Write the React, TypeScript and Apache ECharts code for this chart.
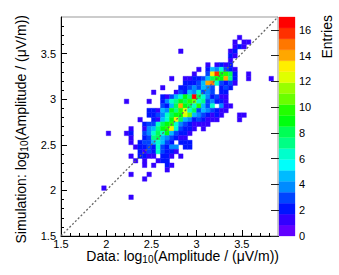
import React, { useEffect, useRef } from "react";
import * as echarts from "echarts";

// ---- data ----
const binWidth = 0.05;
const zMax = 17;
const nContours = 20;

// [y-bin low edge, x-bin low edge of first cell, counts of consecutive x bins]
const histRows: Array<[number, number, number[]]> = [
  [3.65, 3.45, [1]],
  [3.6, 3.4, [1, 0, 1, 1]],
  [3.55, 3.4, [1, 2, 1]],
  [3.5, 2.8, [1]],
  [3.5, 3.35, [1, 2]],
  [3.45, 3.35, [2, 1]],
  [3.4, 3.35, [1]],
  [3.35, 3.1, [1, 0, 1, 2, 1, 2]],
  [3.3, 3.0, [1, 0, 2, 5, 4, 6, 3, 2, 1]],
  [3.25, 2.95, [1, 0, 0, 3, 13, 16, 9, 10, 8, 2]],
  [3.25, 3.55, [1]],
  [3.2, 2.7, [1]],
  [3.2, 2.85, [1, 1, 2, 2, 3, 5, 8, 9, 9, 14, 7, 2]],
  [3.2, 3.55, [1]],
  [3.2, 3.8, [1]],
  [3.15, 2.85, [2, 2, 2, 3, 5, 14, 15, 6, 3, 2, 3, 1]],
  [3.1, 2.6, [1]],
  [3.1, 2.8, [2, 2, 3, 4, 3, 5, 4, 3, 0, 2, 3, 2]],
  [3.05, 2.5, [1]],
  [3.05, 2.75, [1, 3, 2, 5, 4, 6, 3, 4, 3, 0, 2, 2]],
  [3.0, 2.6, [2, 1, 3, 5, 6, 9, 7, 17, 8, 6, 4, 2, 3, 1, 1]],
  [2.95, 2.2, [1]],
  [2.95, 2.45, [1]],
  [2.95, 2.6, [2, 4, 6, 7, 9, 8, 10, 11, 6, 7, 3, 4, 2, 2, 1]],
  [2.9, 2.6, [3, 2, 5, 8, 14, 9, 8, 6, 10, 5, 3, 6, 0, 4, 1, 1]],
  [2.85, 2.45, [2, 2, 1, 5, 4, 9, 7, 10, 12, 6, 8, 3, 5, 4, 3, 2, 1, 1]],
  [2.8, 2.45, [2, 2, 3, 4, 6, 8, 9, 9, 12, 11, 5, 4, 3, 2, 1, 2, 1]],
  [2.8, 3.45, [1, 1]],
  [2.75, 2.35, [1]],
  [2.75, 2.5, [2, 1, 5, 6, 9, 13, 8, 5, 4, 2, 3, 2, 1, 1, 1]],
  [2.75, 3.45, [1]],
  [2.7, 2.4, [2, 3, 3, 6, 8, 9, 10, 6, 4, 3, 2, 1, 1, 1, 1]],
  [2.65, 2.25, [1]],
  [2.65, 2.4, [1, 4, 5, 7, 9, 10, 13, 6, 3, 2, 2, 1]],
  [2.65, 3.05, [1]],
  [2.6, 2.0, [1]],
  [2.6, 2.2, [1, 2]],
  [2.6, 2.4, [3, 4, 6, 8, 6, 9, 5, 3, 2, 2, 1]],
  [2.55, 2.25, [1]],
  [2.55, 2.4, [2, 3, 7, 8, 5, 4, 3, 2, 1, 1]],
  [2.5, 2.25, [1]],
  [2.5, 2.35, [2, 3, 3, 5, 6, 5, 3, 2, 0, 2, 2, 2]],
  [2.45, 2.3, [1, 2, 2, 3, 2, 6, 3, 2, 4, 4, 0, 2, 2]],
  [2.4, 2.35, [2, 1, 3, 2, 6, 3, 2, 2, 1]],
  [2.35, 2.25, [1, 0, 2, 2, 1, 1, 0, 2, 2, 1, 0, 1]],
  [2.3, 2.3, [1, 0, 1, 0, 0, 1, 2, 2]],
  [2.25, 2.4, [1, 0, 1, 0, 0, 2, 1]],
  [2.2, 2.65, [1]],
  [2.15, 2.25, [1]],
  [2.15, 2.45, [1]],
  [2.1, 2.4, [1]],
  [2.0, 1.95, [1]],
  [1.9, 2.25, [1]],
];

const palette = [
  "#6100ff", "#3300ff", "#0014ff", "#0044ff", "#008bff",
  "#00bbff", "#00fffb", "#00ffcc", "#00ff85", "#00ff55",
  "#00ff0e", "#22ff00", "#69ff00", "#99ff00", "#e0ff00",
  "#ffee00", "#ffa700", "#ff7700", "#ff3000", "#ff0000",
];

const majorTicks = [1.5, 2, 2.5, 3, 3.5];
const minorTicks = [1.6, 1.7, 1.8, 1.9, 2.1, 2.2, 2.3, 2.4, 2.6, 2.7, 2.8, 2.9, 3.1, 3.2, 3.3, 3.4, 3.6, 3.7, 3.8];
const zTicks = [0, 2, 4, 6, 8, 10, 12, 14, 16];
const diagonal = [[1.5, 1.5], [3.9, 3.9]];

const FONT = "'Liberation Sans', Arial, Helvetica, sans-serif";

function colorFor(z: number) {
  const lvl = Math.min(nContours - 1, Math.floor(0.01 + (z * nContours) / zMax));
  return palette[lvl];
}

export default function App() {
  const ref = useRef<HTMLDivElement>(null);
  useEffect(() => {
    if (!ref.current) return;
    const chart = echarts.init(ref.current, null, { renderer: "svg" });

    const cells: number[][] = [];
    histRows.forEach(([yLow, xStart, counts]) => {
      counts.forEach((c, k) => {
        if (c > 0) cells.push([Math.round((xStart + k * binWidth) * 100) / 100, yLow, c]);
      });
    });
    const bands = palette.map((_, k) => [(k * zMax) / nContours, ((k + 1) * zMax) / nContours, k]);

    const labelStyle = { color: "#000", fontSize: 11, fontFamily: FONT, lineHeight: 11 };
    const titleRich = {
      a: { fontSize: 14, fontFamily: FONT, fill: "#000", lineHeight: 16, verticalAlign: "middle" },
      s: { fontSize: 10, fontFamily: FONT, fill: "#000", lineHeight: 6, verticalAlign: "bottom" },
    };

    const option: any = {
      animation: false,
      grid: [
        { left: 61, top: 17, width: 217, height: 219, show: true, borderColor: "#999", borderWidth: 1, backgroundColor: "transparent" },
        { left: 279, top: 17, width: 16, height: 219, show: false },
      ],
      xAxis: [
        {
          type: "value", gridIndex: 0, min: 1.5, max: 3.9, position: "bottom",
          axisLine: { show: true, onZero: false, lineStyle: { color: "#000", width: 1 } },
          axisTick: { show: true, inside: true, length: 6, lineStyle: { color: "#000" }, customValues: majorTicks },
          axisLabel: { ...labelStyle, margin: 2, customValues: majorTicks },
          splitLine: { show: false },
        },
        {
          type: "value", gridIndex: 0, min: 1.5, max: 3.9, position: "bottom",
          axisLine: { show: false },
          axisTick: { show: true, inside: true, length: 3, lineStyle: { color: "#000" }, customValues: minorTicks },
          axisLabel: { show: false },
          splitLine: { show: false },
        },
        { type: "value", gridIndex: 1, min: 0, max: 1, show: false },
      ],
      yAxis: [
        {
          type: "value", gridIndex: 0, min: 1.5, max: 3.9, position: "left",
          axisLine: { show: true, onZero: false, lineStyle: { color: "#000", width: 1 } },
          axisTick: { show: true, inside: true, length: 6, lineStyle: { color: "#000" }, customValues: majorTicks },
          axisLabel: { ...labelStyle, margin: 5, customValues: majorTicks },
          splitLine: { show: false },
        },
        {
          type: "value", gridIndex: 0, min: 1.5, max: 3.9, position: "left",
          axisLine: { show: false },
          axisTick: { show: true, inside: true, length: 3, lineStyle: { color: "#000" }, customValues: minorTicks },
          axisLabel: { show: false },
          splitLine: { show: false },
        },
        {
          type: "value", gridIndex: 1, min: 0, max: zMax, position: "right",
          axisLine: { show: false },
          axisTick: { show: true, inside: true, length: 8, lineStyle: { color: "#222" }, customValues: zTicks },
          axisLabel: { ...labelStyle, margin: 4, customValues: zTicks },
          splitLine: { show: false },
        },
      ],
      series: [
        {
          type: "custom",
          xAxisIndex: 0, yAxisIndex: 0,
          data: cells,
          encode: { x: 0, y: 1 },
          renderItem: (params: any, api: any) => {
            const x = api.value(0), y = api.value(1), z = api.value(2);
            const p0 = api.coord([x, y + binWidth]);
            const p1 = api.coord([x + binWidth, y]);
            const fill = colorFor(z);
            return {
              type: "rect",
              shape: { x: p0[0], y: p0[1], width: p1[0] - p0[0], height: p1[1] - p0[1] },
              style: { fill, stroke: fill, lineWidth: 0.4 },
            };
          },
          z: 2,
        },
        {
          type: "line",
          xAxisIndex: 0, yAxisIndex: 0,
          data: diagonal,
          symbol: "none",
          lineStyle: { color: "#666", width: 1.3, type: [2, 2] },
          z: 5,
        },
        {
          type: "custom",
          xAxisIndex: 2, yAxisIndex: 2,
          data: bands,
          encode: { y: [0, 1] },
          renderItem: (params: any, api: any) => {
            const lo = api.value(0), hi = api.value(1), k = api.value(2);
            const p0 = api.coord([0, hi]);
            const p1 = api.coord([1, lo]);
            return {
              type: "rect",
              shape: { x: p0[0], y: p0[1], width: p1[0] - p0[0], height: p1[1] - p0[1] },
              style: { fill: palette[k], stroke: palette[k], lineWidth: 0.3 },
            };
          },
          z: 1,
        },
      ],
      graphic: [
        {
          type: "text", x: 279, y: 256,
          style: {
            text: "{a|Data: log}{s|10}{a|(Amplitude / (\u03bcV/m))}",
            align: "right", verticalAlign: "middle",
            rich: titleRich,
          },
        },
        {
          type: "text", x: 21, y: 15, rotation: Math.PI / 2,
          style: {
            text: "{a|Simulation: log}{s|10}{a|(Amplitude / (\u03bcV/m))}",
            align: "right", verticalAlign: "middle",
            rich: titleRich,
          },
        },
        {
          type: "text", x: 327, y: 15, rotation: Math.PI / 2,
          style: { text: "Entries", align: "right", verticalAlign: "middle", fontSize: 14, fontFamily: FONT, fill: "#000" },
        },
      ],
    };
    chart.setOption(option);
    return () => chart.dispose();
  }, []);
  return <div ref={ref} style={{ width: 339, height: 275, position: "absolute", left: 0, top: 0 }} />;
}
